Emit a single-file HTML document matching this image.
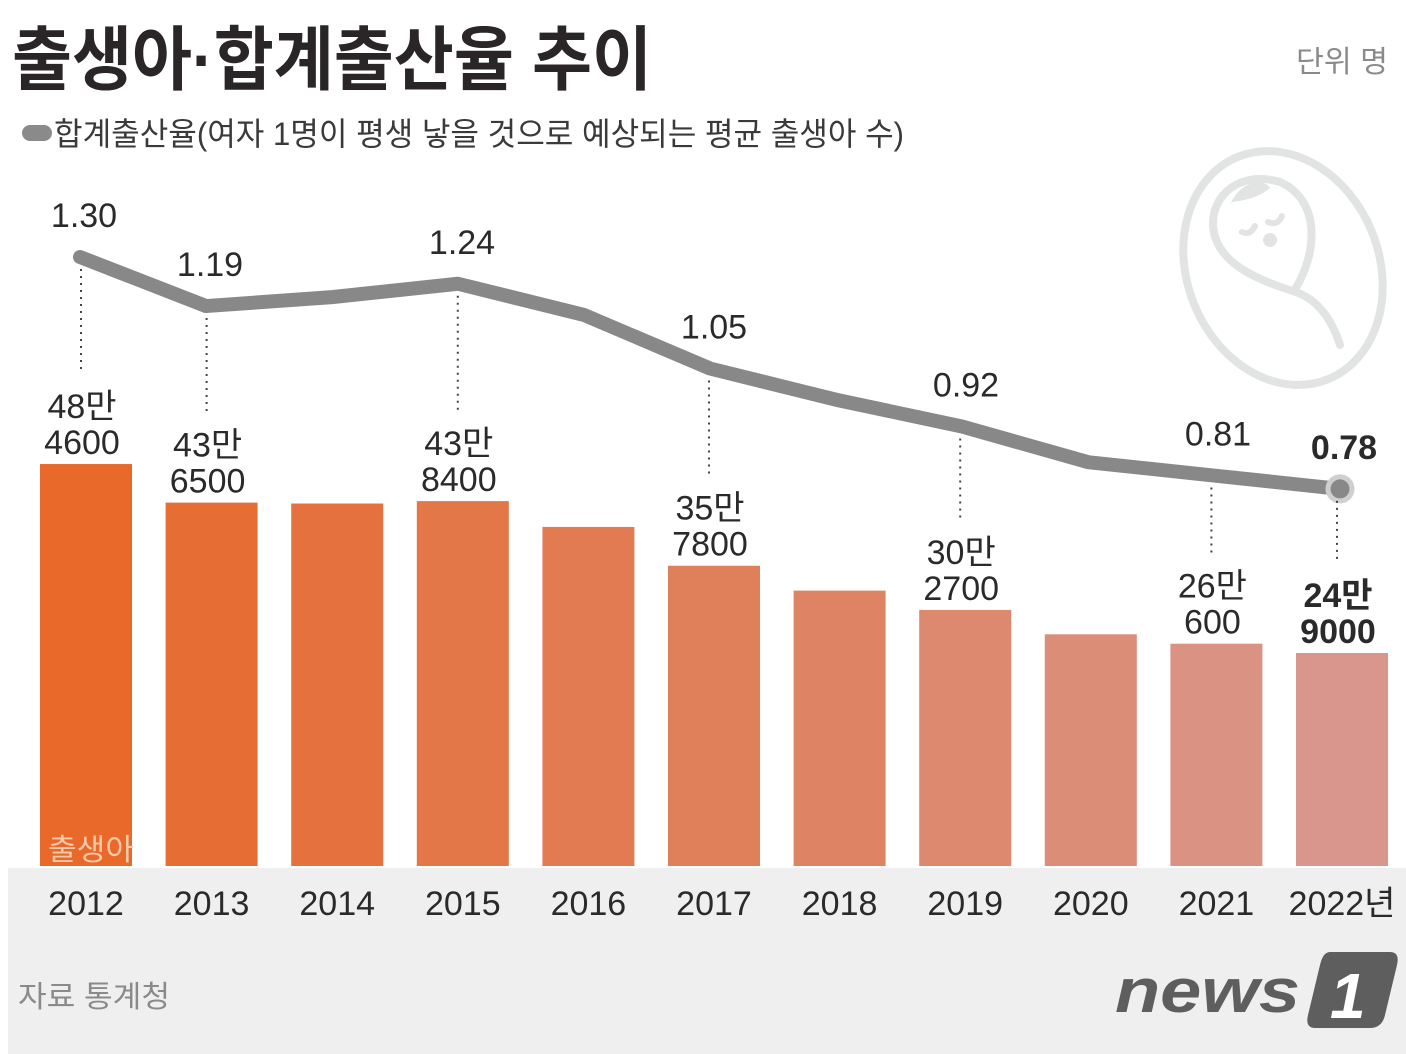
<!DOCTYPE html>
<html><head><meta charset="utf-8"><style>
html,body{margin:0;padding:0;background:#fff;}
svg{display:block;}
text{font-family:"Liberation Sans","Noto Sans CJK KR",sans-serif;}
</style></head><body>
<svg id="chart" width="1406" height="1054" viewBox="0 0 1406 1054">
<rect x="0" y="0" width="1406" height="1054" fill="#ffffff"/>
<rect x="8" y="868" width="1398" height="186" fill="#efefef"/>
<text x="12" y="84" font-size="70" font-weight="bold" fill="#2a2627" textLength="640" lengthAdjust="spacingAndGlyphs">출생아·합계출산율 추이</text>
<text x="1296" y="72" font-size="30" fill="#8a8a8a" textLength="92" lengthAdjust="spacingAndGlyphs">단위 명</text>
<rect x="22" y="125" width="30" height="16" rx="8" fill="#8a8a8a"/>
<text x="54" y="145" font-size="32" fill="#3a3a3a" textLength="850" lengthAdjust="spacingAndGlyphs">합계출산율(여자 1명이 평생 낳을 것으로 예상되는 평균 출생아 수)</text>
<g>
<g fill="none" stroke="#e2e4e3" stroke-width="8" stroke-linecap="round">
<ellipse cx="1283" cy="268" rx="96" ry="120" transform="rotate(-22 1283 268)"/>
<path d="M1296 288 C1318 250 1320 200 1280 182 C1240 170 1212 195 1213 225 C1215 260 1250 278 1296 292 C1318 300 1332 320 1340 345"/>
</g>
<path d="M1230 205 C1240 180 1265 178 1270 188 C1262 195 1250 200 1232 202 Z" fill="#e2e4e3"/>
<path d="M1242 232 Q1250 236 1255 226 M1268 222 Q1278 226 1282 216" fill="none" stroke="#e2e4e3" stroke-width="6" stroke-linecap="round"/>
<circle cx="1270" cy="240" r="7" fill="#e2e4e3"/>
</g>
<g id="bars"></g>
<g id="line"></g>
<g id="labels"></g>
<text x="48" y="860" font-size="30" fill="#f7c9a8" textLength="86" lengthAdjust="spacingAndGlyphs">출생아</text>
<text x="18" y="1007" font-size="30" fill="#8a8a8a" textLength="152" lengthAdjust="spacingAndGlyphs">자료 통계청</text>
<g>
<text x="1115" y="1012" font-size="62" font-weight="bold" font-style="italic" fill="#5e5e5e" textLength="185" lengthAdjust="spacingAndGlyphs">news</text>
<path d="M1330 952 L1390 952 Q1400 952 1397 965 L1385 1015 Q1382 1028 1370 1028 L1315 1028 Q1305 1028 1308 1015 L1320 965 Q1323 952 1330 952 Z" fill="#5e5e5e"/>
<text x="1330" y="1018" font-size="64" font-weight="bold" font-style="italic" fill="#ffffff">1</text>
</g>
</svg>
<script>
const years = ["2012","2013","2014","2015","2016","2017","2018","2019","2020","2021","2022년"];
const births = [484600,436500,435400,438400,406200,357800,326800,302700,272300,260600,249000];
const tfr = [1.30,1.19,1.21,1.24,1.17,1.05,0.98,0.92,0.84,0.81,0.78];
const birthLabelTop = ["48만","43만","","43만","","35만","","30만","","26만","24만"];
const birthLabelBot = ["4600","6500","","8400","","7800","","2700","","600","9000"];
const tfrLabels = ["1.30","1.19","","1.24","","1.05","","0.92","","0.81","0.78"];
const colorsStart=[232,105,42], colorsEnd=[216,150,140];
const NS="http://www.w3.org/2000/svg";
const xBar = i => 40 + i*125.6;
const barW = 92;
const yBirth = v => 852.7 - 0.802*(v/1000);
const yTfr = v => 257 + (1.30 - v)*446;
const xPt = i => 80 + i*126;
const baseY = 866;
function mk(tag, attrs, parent){const e=document.createElementNS(NS,tag);for(const k in attrs)e.setAttribute(k,attrs[k]);parent.appendChild(e);return e;}
const gb=document.getElementById('bars'), gl=document.getElementById('line'), gt=document.getElementById('labels');
births.forEach((v,i)=>{
  const t=i/(births.length-1);
  const c=colorsStart.map((s,k)=>Math.round(s+(colorsEnd[k]-s)*t));
  const r=mk('rect',{x:xBar(i),y:yBirth(v),width:barW,height:baseY-yBirth(v),fill:`rgb(${c.join(',')})`},gb);
  
  
  const yl=mk('text',{x:xBar(i)+barW/2,y:915,'font-size':34,fill:'#2a2a2a','text-anchor':'middle'},gt);
  yl.textContent=years[i];
  
  
});
let d='';
tfr.forEach((v,i)=>{d+=(i?'L':'M')+xPt(i)+' '+yTfr(v)+' ';});
const p=mk('path',{d:d,fill:'none',stroke:'#888888','stroke-width':14,'stroke-linejoin':'round','stroke-linecap':'round'},gl);


const last=tfr.length-1;
const dot=mk('circle',{cx:xPt(last),cy:yTfr(tfr[last]),r:12,fill:'#888','stroke':'#cfcfcf','stroke-width':5},gl);


tfr.forEach((v,i)=>{
  if(!tfrLabels[i])return;
  const bold=i===last;
  const tx=mk('text',{x:xPt(i)+4,y:yTfr(v)-30,'font-size':34,fill:'#2a2a2a','text-anchor':'middle','font-weight':bold?'bold':'normal'},gt);
  tx.textContent=tfrLabels[i];
  
  
  const top=yBirth(births[i]);
  const lblTop=top-80;
  const ln=mk('line',{x1:xBar(i)+barW/2-5,y1:yTfr(v)+12,x2:xBar(i)+barW/2-5,y2:lblTop-10,stroke:'#444','stroke-width':2,'stroke-dasharray':'2 5'},gt);
  
  
  const b1=mk('text',{x:xBar(i)+barW/2-4,y:top-46,'font-size':34,fill:'#2a2a2a','text-anchor':'middle','font-weight':bold?'bold':'normal'},gt);
  b1.textContent=birthLabelTop[i];
  
  
  const b2=mk('text',{x:xBar(i)+barW/2-4,y:top-10,'font-size':34,fill:'#2a2a2a','text-anchor':'middle','font-weight':bold?'bold':'normal'},gt);
  b2.textContent=birthLabelBot[i];
  
  
});
</script>
</body></html>
